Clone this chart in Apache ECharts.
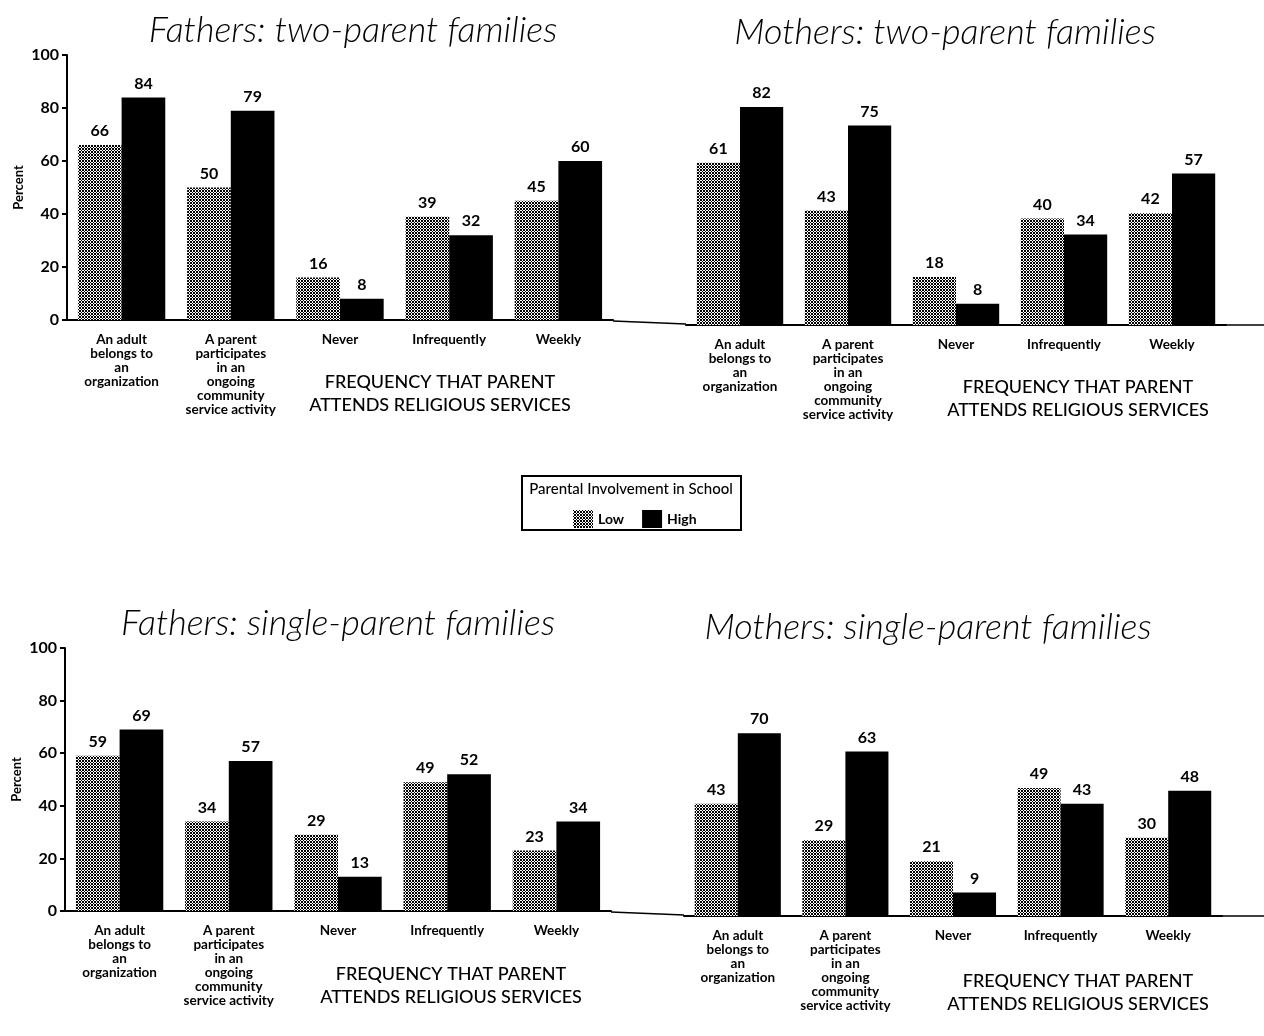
<!DOCTYPE html>
<html>
<head>
<meta charset="utf-8">
<script src="https://cdn.jsdelivr.net/npm/echarts@6/dist/echarts.min.js"></script>
<style>
html,body{margin:0;padding:0;background:#fff;}
#chart{width:1264px;height:1036px;}
</style>
</head>
<body>
<div id="chart"></div>
<script>
// ---- data ----
var categories = [
  'An adult\nbelongs to\nan\norganization',
  'A parent\nparticipates\nin an\nongoing\ncommunity\nservice activity',
  'Never',
  'Infrequently',
  'Weekly'
];
var panelTitles = [
  'Fathers: two-parent families',
  'Mothers: two-parent families',
  'Fathers: single-parent families',
  'Mothers: single-parent families'
];
var fathersTwoLow   = [66, 50, 16, 39, 45];
var fathersTwoHigh  = [84, 79, 8, 32, 60];
var mothersTwoLow   = [61, 43, 18, 40, 42];
var mothersTwoHigh  = [82, 75, 8, 34, 57];
var fathersSingleLow  = [59, 34, 29, 49, 23];
var fathersSingleHigh = [69, 57, 13, 52, 34];
var mothersSingleLow  = [43, 29, 21, 49, 30];
var mothersSingleHigh = [70, 63, 9, 43, 48];
var yTicks = [0, 20, 40, 60, 80, 100];
var groupLabel = 'FREQUENCY THAT PARENT\nATTENDS RELIGIOUS SERVICES';
var legendTitle = 'Parental Involvement in School';
var seriesNames = ['Low', 'High'];

// ---- pattern for "Low" ----
function makePattern() {
  var c = document.createElement('canvas');
  c.width = 3; c.height = 3;
  var ctx = c.getContext('2d');
  ctx.fillStyle = '#ffffff';
  ctx.fillRect(0, 0, 3, 3);
  ctx.fillStyle = '#000000';
  for (var x = 0; x < 3; x++) {
    for (var y = 0; y < 3; y++) {
      if ((x + y) % 3 === 0 || (x - y + 3) % 3 === 0) ctx.fillRect(x, y, 1, 1);
    }
  }
  return {image: c, repeat: 'repeat'};
}
var lowColor = makePattern();
var highColor = '#000000';

var FONT = 'Lato, "DejaVu Sans", sans-serif';

var grids = [
  {left: 67, top: 55, width: 546, height: 265},
  {left: 686, top: 59, width: 540, height: 266},
  {left: 65, top: 648, width: 546, height: 263},
  {left: 684, top: 655, width: 538, height: 261}
];
var showY = [true, false, true, false];
var lowData = [fathersTwoLow, mothersTwoLow, fathersSingleLow, mothersSingleLow];
var highData = [fathersTwoHigh, mothersTwoHigh, fathersSingleHigh, mothersSingleHigh];

var xAxes = [], yAxes = [], series = [];
grids.forEach(function (g, i) {
  xAxes.push({
    type: 'category', gridIndex: i, data: categories,
    axisLine: {lineStyle: {color: '#000', width: 2}},
    axisTick: {show: false},
    axisLabel: {interval: 0, color: '#000', fontFamily: FONT, fontWeight: 'bold', fontSize: 13.5, lineHeight: 14, margin: 13}
  });
  yAxes.push({
    type: 'value', gridIndex: i, min: yTicks[0], max: yTicks[yTicks.length - 1], interval: yTicks[1] - yTicks[0],
    show: true,
    name: showY[i] ? 'Percent' : '',
    nameLocation: 'middle', nameRotate: 90, nameGap: 42,
    nameTextStyle: {color: '#000', fontFamily: FONT, fontWeight: 'bold', fontSize: 13},
    axisLine: {show: showY[i], lineStyle: {color: '#000', width: 2}},
    axisTick: {show: showY[i], length: 5, lineStyle: {color: '#000', width: 2}},
    axisLabel: {show: showY[i], color: '#000', fontFamily: FONT, fontWeight: 'bold', fontSize: 16, margin: 8},
    splitLine: {show: false}
  });
  var lbl = {show: true, position: 'top', distance: 6, color: '#000', fontFamily: FONT, fontWeight: 'bold', fontSize: 16};
  series.push({
    name: seriesNames[0], type: 'bar', xAxisIndex: i, yAxisIndex: i, data: lowData[i],
    barGap: '0%', barCategoryGap: '20%', itemStyle: {color: lowColor}, label: lbl, silent: true
  });
  series.push({
    name: seriesNames[1], type: 'bar', xAxisIndex: i, yAxisIndex: i, data: highData[i],
    barGap: '0%', barCategoryGap: '20%', itemStyle: {color: highColor}, label: lbl, silent: true
  });
});

var titleCenters = [[353, 30], [945, 32], [338, 623], [928, 627]];
var groupCenters = [[440, 394], [1078, 399], [451, 986], [1078, 993]];
var graphics = [];
panelTitles.forEach(function (t, i) {
  graphics.push({type: 'text', x: titleCenters[i][0], y: titleCenters[i][1],
    style: {text: t, fill: '#000', font: 'italic 300 36px ' + FONT, textAlign: 'center', textVerticalAlign: 'middle'}});
  graphics.push({type: 'text', x: groupCenters[i][0], y: groupCenters[i][1],
    style: {text: groupLabel, fill: '#000', font: '500 18px ' + FONT, textAlign: 'center', textVerticalAlign: 'middle', lineHeight: 23}});
});
graphics.push({type: 'rect', shape: {x: 522, y: 476, width: 219, height: 54},
  style: {fill: 'none', stroke: '#000', lineWidth: 2}});
graphics.push({type: 'text', x: 631, y: 489,
  style: {text: legendTitle, fill: '#000', font: '500 15px ' + FONT, textAlign: 'center', textVerticalAlign: 'middle'}});
// baseline connectors between panels
graphics.push({type: 'line', shape: {x1: 613, y1: 321, x2: 686, y2: 324}, style: {stroke: '#000', lineWidth: 1.5}});
graphics.push({type: 'line', shape: {x1: 1226, y1: 325, x2: 1264, y2: 325}, style: {stroke: '#000', lineWidth: 1.5}});
graphics.push({type: 'line', shape: {x1: 611, y1: 912, x2: 684, y2: 915}, style: {stroke: '#000', lineWidth: 1.5}});
graphics.push({type: 'line', shape: {x1: 1222, y1: 916, x2: 1264, y2: 916}, style: {stroke: '#000', lineWidth: 1.5}});

var chart = echarts.init(document.getElementById('chart'), null, {renderer: 'canvas'});
chart.setOption({
  backgroundColor: '#ffffff',
  animation: false,
  grid: grids,
  xAxis: xAxes,
  yAxis: yAxes,
  series: series,
  legend: {
    data: seriesNames, left: 568, top: 505, itemWidth: 20, itemHeight: 18, itemGap: 18,
    icon: 'rect', selectedMode: false,
    textStyle: {color: '#000', fontFamily: FONT, fontWeight: 'bold', fontSize: 14}
  },
  graphic: graphics
});
</script>
</body>
</html>
